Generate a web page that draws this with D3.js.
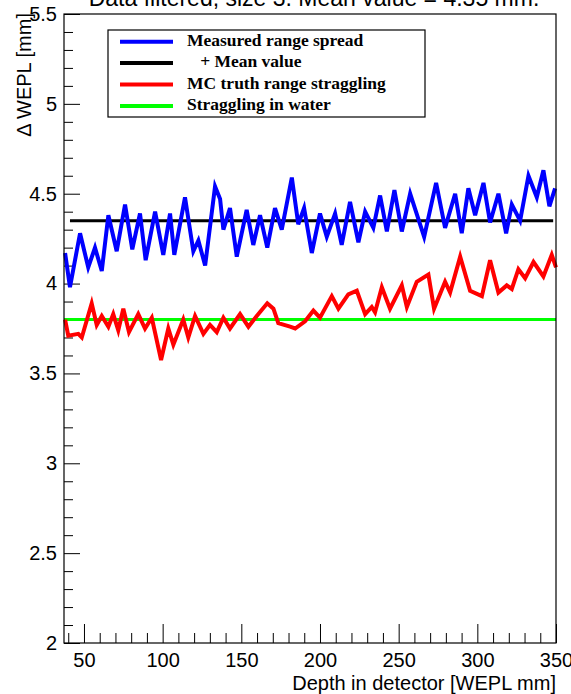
<!DOCTYPE html>
<html>
<head>
<meta charset="utf-8">
<script src="https://cdn.jsdelivr.net/npm/d3@7"></script>
<style>
  body { margin: 0; background: #fff; }
  svg { display: block; font-family: "Liberation Sans", Arial, sans-serif; }
</style>
</head>
<body>
<svg id="chart" width="571" height="694"></svg>
<script>
// Measured range spread (blue)
const measuredX = [38, 41.1, 47.5, 52.7, 57, 61.3, 65.5, 70.8, 76.1, 80.7, 85.6, 89.2, 95.2, 100.4, 104.7, 107.4,
  114.2, 119.5, 122.7, 127, 133.3, 136.5, 138.6, 142.8, 147.1, 153.4, 157.6, 161.9, 166.5, 171.4, 175.7, 182.1,
  186.2, 189.9, 194.8, 200, 204.3, 209.6, 213.8, 219.1, 224.4, 228.7, 233.9, 238.2, 242.5, 247.3, 252, 257.3,
  266.2, 273.8, 279.5, 285.9, 290.1, 294.3, 298.6, 303.9, 308.1, 313.4, 318.3, 321.9, 327.2, 332.5, 337.8, 342,
  345.8, 349.4]
const measuredY = [4.17, 3.98, 4.28, 4.09, 4.20, 4.07, 4.38, 4.18, 4.44, 4.19, 4.39, 4.13, 4.40, 4.16, 4.39, 4.16,
  4.48, 4.18, 4.24, 4.10, 4.54, 4.47, 4.30, 4.42, 4.15, 4.41, 4.215, 4.38, 4.20, 4.42, 4.30, 4.59,
  4.33, 4.42, 4.17, 4.39, 4.26, 4.39, 4.215, 4.455, 4.23, 4.40, 4.31, 4.49, 4.29, 4.52, 4.29, 4.50,
  4.26, 4.56, 4.31, 4.50, 4.28, 4.53, 4.38, 4.56, 4.34, 4.50, 4.28, 4.44, 4.35, 4.60, 4.48, 4.63,
  4.43, 4.53]

// MC truth range straggling (red)
const truthX = [38, 40, 46.4, 48.6, 54.9, 58.1, 61.3, 65.5, 68.6, 71.8, 75, 78.6, 84.5, 88.8, 93.1, 99, 103.6, 106.8,
  113.1, 116.3, 120.6, 125.9, 130.1, 134.4, 138.6, 142.8, 149.2, 154.5, 159.8, 166.5, 170.4, 173.5, 181, 184.2,
  190.5, 195.8, 200, 207.5, 211.7, 218, 223.4, 228.7, 232.9, 235, 239.3, 244.5, 252, 255.2, 261.5, 268.9, 272.5,
  279.5, 282.7, 289.1, 295.4, 302.9, 308.1, 313.4, 318.7, 321.9, 326.1, 330.4, 335.7, 342, 347.3, 350]
const truthY = [3.80, 3.71, 3.72, 3.70, 3.89, 3.77, 3.82, 3.76, 3.83, 3.74, 3.86, 3.73, 3.83, 3.75, 3.81, 3.575, 3.75, 3.66,
  3.80, 3.70, 3.82, 3.72, 3.77, 3.73, 3.81, 3.75, 3.83, 3.76, 3.82, 3.89, 3.86, 3.78, 3.76, 3.75,
  3.79, 3.85, 3.81, 3.93, 3.86, 3.94, 3.96, 3.83, 3.87, 3.84, 3.98, 3.86, 3.99, 3.87, 4.01, 4.05, 3.86,
  4.01, 3.95, 4.15, 3.96, 3.93, 4.13, 3.95, 3.99, 3.97, 4.08, 4.03, 4.12, 4.04, 4.16, 4.09]

const meanValue = 4.35
const meanRange = [41.1, 348.2]
const waterValue = 3.8

const xMajorTicks = [50, 100, 150, 200, 250, 300, 350]
const yMajorTicks = [2, 2.5, 3, 3.5, 4, 4.5, 5, 5.5]

const legendLabels = ["Measured range spread", "   + Mean value", "MC truth range straggling", "Straggling in water"]
const legendColors = ["#0000ff", "#000000", "#ff0000", "#00ff00"]

const svg = d3.select("#chart")
const frame = { left: 64, right: 556, top: 14, bottom: 643 }

const x = d3.scaleLinear().domain([37.3, 350]).range([frame.left, frame.right])
const y = d3.scaleLinear().domain([2, 5.5]).range([frame.bottom, frame.top])

// Title (cut at the top of the canvas, as in the original)
svg.append("text")
  .attr("x", 314)
  .attr("y", 6)
  .attr("text-anchor", "middle")
  .style("font-size", "23px")
  .text("Data filtered, size 3. Mean value = 4.35 mm.")

// Axes: ROOT-like ticks pointing inward
const xMinor = d3.range(40, 351, 10).filter(v => !xMajorTicks.includes(v))
const yMinor = d3.range(20, 56, 1).map(v => v / 10).filter(v => !yMajorTicks.includes(v))

svg.append("g")
  .attr("transform", `translate(0, ${frame.bottom})`)
  .call(d3.axisBottom(x).tickValues(xMinor).tickSize(-10).tickFormat(""))
svg.append("g")
  .attr("class", "x-axis")
  .attr("transform", `translate(0, ${frame.bottom})`)
  .call(d3.axisBottom(x).tickValues(xMajorTicks).tickSize(-19).tickPadding(10).tickFormat(d3.format("~g")))

svg.append("g")
  .attr("transform", `translate(${frame.left}, 0)`)
  .call(d3.axisLeft(y).tickValues(yMinor).tickSize(-9).tickFormat(""))
svg.append("g")
  .attr("class", "y-axis")
  .attr("transform", `translate(${frame.left}, 0)`)
  .call(d3.axisLeft(y).tickValues(yMajorTicks).tickSize(-16).tickPadding(7).tickFormat(d3.format("~g")))

svg.selectAll(".domain").remove()
svg.selectAll(".tick line").style("stroke", "#000").style("stroke-width", 1)
svg.selectAll(".tick text")
  .style("font-size", "20px")
  .style("fill", "#000")
  .style("font-family", "'Liberation Sans', Arial, sans-serif")

// Axis titles
svg.append("text")
  .attr("x", frame.right)
  .attr("y", 689.5)
  .attr("text-anchor", "end")
  .style("font-size", "20px")
  .text("Depth in detector [WEPL mm]")

svg.append("text")
  .attr("transform", "translate(31, 13) rotate(-90)")
  .attr("text-anchor", "end")
  .style("font-size", "20px")
  .text("\u0394 WEPL [mm]")

// Reference lines
svg.append("line")
  .attr("x1", x(meanRange[0])).attr("x2", x(meanRange[1]))
  .attr("y1", y(meanValue)).attr("y2", y(meanValue))
  .attr("stroke", "#000").attr("stroke-width", 3)

svg.append("line")
  .attr("x1", x(37.3)).attr("x2", x(350))
  .attr("y1", y(waterValue)).attr("y2", y(waterValue))
  .attr("stroke", "#00ff00").attr("stroke-width", 3)

// Series
const line = d3.line()
  .x(d => x(d[0]))
  .y(d => y(d[1]))

svg.append("path")
  .datum(d3.zip(truthX, truthY))
  .attr("fill", "none")
  .attr("stroke", "#ff0000")
  .attr("stroke-width", 4)
  .attr("stroke-linejoin", "miter")
  .attr("d", line)

svg.append("path")
  .datum(d3.zip(measuredX, measuredY))
  .attr("fill", "none")
  .attr("stroke", "#0000ff")
  .attr("stroke-width", 4)
  .attr("stroke-linejoin", "miter")
  .attr("d", line)

// Frame
svg.append("rect")
  .attr("x", frame.left)
  .attr("y", frame.top)
  .attr("width", frame.right - frame.left)
  .attr("height", frame.bottom - frame.top)
  .attr("fill", "none")
  .attr("stroke", "#000")
  .attr("stroke-width", 1.2)

// Legend
const legend = svg.append("g").attr("transform", "translate(108, 30)")
legend.append("rect")
  .attr("width", 317)
  .attr("height", 87)
  .attr("fill", "#fff")
  .attr("stroke", "#000")
  .attr("stroke-width", 1.2)

legendLabels.forEach((label, i) => {
  const ly = 11.7 + i * 21.4
  legend.append("line")
    .attr("x1", 12).attr("x2", 65)
    .attr("y1", ly).attr("y2", ly)
    .attr("stroke", legendColors[i])
    .attr("stroke-width", 4)
  legend.append("text")
    .attr("x", 79)
    .attr("y", ly + 4)
    .style("font-family", "'Liberation Serif', 'Times New Roman', serif")
    .style("font-weight", "bold")
    .style("font-size", "17.5px")
    .style("white-space", "pre")
    .text(label)
})
</script>
</body>
</html>
